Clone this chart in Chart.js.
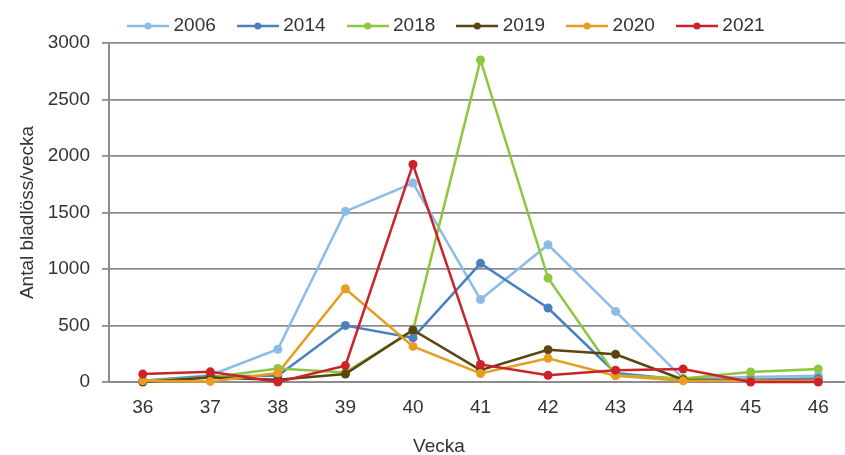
<!DOCTYPE html>
<html>
<head>
<meta charset="utf-8">
<script src="https://cdn.jsdelivr.net/npm/chart.js@4/dist/chart.umd.min.js"></script>
<style>
  html, body { margin: 0; background: #fff; overflow: hidden; }
</style>
</head>
<body>
<!-- the original plot runs a few pixels past the right edge, so the canvas is a bit wider than the window -->
<canvas id="chart" width="852" height="455"></canvas>
<script>
// weeks and yearly aphid counts
const weeks = ['36', '37', '38', '39', '40', '41', '42', '43', '44', '45', '46'];
const years = ['2006', '2014', '2018', '2019', '2020', '2021'];
const y2006 = [10, 60, 290, 1510, 1760, 730, 1215, 625, 30, 45, 55];
const y2014 = [10, 50, 55, 500, 390, 1050, 655, 80, 20, 20, 30];
const y2018 = [10, 40, 120, 85, 455, 2850, 920, 60, 30, 88, 115];
const y2019 = [0, 40, 20, 70, 460, 105, 285, 245, 20, 10, 10];
const y2020 = [10, 5, 80, 825, 315, 75, 210, 55, 10, 10, 10];
const y2021 = [70, 90, 0, 145, 1925, 155, 60, 105, 115, 0, 0];
const yTicks = [0, 500, 1000, 1500, 2000, 2500, 3000];

const colors = ['#8cbce6', '#4a7fc0', '#8dc63f', '#5a4510', '#e89c22', '#cc2229'];
const series = [y2006, y2014, y2018, y2019, y2020, y2021];

const font = "'Liberation Sans', Arial, sans-serif";
const textColor = '#333';
const gridColor = '#8c8c8c';

// little line-with-dot picture for the legend
function legendMark(color) {
  const c = document.createElement('canvas');
  c.width = 42;
  c.height = 10;
  const g = c.getContext('2d');
  g.strokeStyle = color;
  g.lineWidth = 2.5;
  g.beginPath();
  g.moveTo(0, 5);
  g.lineTo(42, 5);
  g.stroke();
  g.fillStyle = color;
  g.beginPath();
  g.arc(21, 5, 3.5, 0, Math.PI * 2);
  g.fill();
  return c;
}
const marks = colors.map(legendMark);

const datasets = years.map((y, i) => ({
  label: y,
  data: series[i],
  borderColor: colors[i],
  backgroundColor: colors[i],
  pointBackgroundColor: colors[i],
  pointBorderWidth: 0,
  pointRadius: 4.5,
  borderWidth: 2.5,
  tension: 0,
  clip: false,
  order: years.length - i
}));

// keep the legend high enough and place it like the original
const legendPlace = {
  id: 'legendPlace',
  beforeInit(chart) {
    const fit = chart.legend.fit;
    chart.legend.fit = function () {
      fit.call(this);
      this.height = 43;
    };
  },
  afterLayout(chart) {
    const lg = chart.legend;
    const w = lg.right - lg.left;
    lg.left = 106;
    lg.right = 106 + w;
    lg.top = -9.5;
  }
};

// x axis title sits a bit left of the plot centre in the original
const xTitle = {
  id: 'xTitle',
  afterDraw(chart) {
    const ctx = chart.ctx;
    ctx.save();
    ctx.font = '19px ' + font;
    ctx.fillStyle = textColor;
    ctx.textAlign = 'center';
    ctx.textBaseline = 'middle';
    ctx.fillText('Vecka', 439, 447);
    ctx.restore();
  }
};

new Chart(document.getElementById('chart'), {
  type: 'line',
  data: { labels: weeks, datasets: datasets },
  plugins: [legendPlace, xTitle],
  options: {
    responsive: false,
    animation: false,
    layout: { autoPadding: false, padding: 0 },
    plugins: {
      tooltip: { enabled: false },
      legend: {
        position: 'top',
        align: 'start',
        labels: {
          usePointStyle: true,
          pointStyleWidth: 32,
          padding: 26,
          color: textColor,
          font: { family: font, size: 19 },
          sort: (a, b) => a.datasetIndex - b.datasetIndex,
          generateLabels: chart => {
            const items = Chart.defaults.plugins.legend.labels.generateLabels(chart);
            items.forEach(it => { it.pointStyle = marks[it.datasetIndex]; });
            return items;
          }
        }
      }
    },
    scales: {
      x: {
        offset: true,
        grid: { display: false, drawTicks: false, tickLength: 0 },
        border: { display: true, color: gridColor, width: 2 },
        ticks: { color: textColor, font: { family: font, size: 19 }, padding: 14, maxRotation: 0 },
        afterFit: s => {
          s.height = 73;
          s.paddingLeft = 0;
          s.paddingRight = 0;
        }
      },
      y: {
        min: 0,
        max: 3000,
        afterBuildTicks: s => { s.ticks = yTicks.map(v => ({ value: v })); },
        grid: { color: gridColor, lineWidth: 1.8, tickLength: 7, drawTicks: true },
        border: { display: true, color: gridColor, width: 2 },
        ticks: {
          color: textColor,
          font: { family: font, size: 19 },
          padding: 12,
          callback: v => String(v)
        },
        title: {
          display: true,
          text: 'Antal bladlöss/vecka',
          color: textColor,
          font: { family: font, size: 19 },
          padding: { top: 16, bottom: 0 }
        },
        afterFit: s => { s.width = 109; }
      }
    }
  }
});
</script>
</body>
</html>
